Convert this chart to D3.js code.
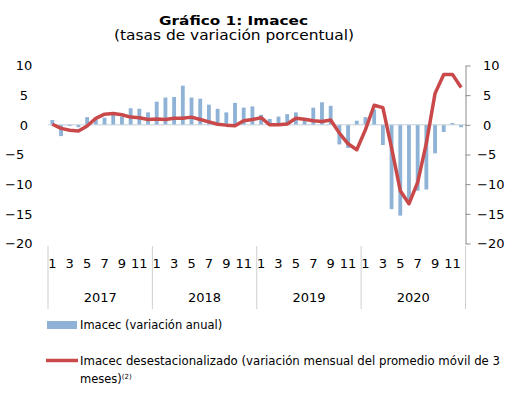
<!DOCTYPE html>
<html>
<head>
<meta charset="utf-8">
<script src="https://cdn.jsdelivr.net/npm/d3@7"></script>
<style>
  body { margin: 0; background: #fff; }
  svg { display: block; font-family: "DejaVu Sans", Verdana, sans-serif; }
</style>
</head>
<body>
<div id="chart"></div>
<script>
// Data
const years = ['2017', '2018', '2019', '2020'];
const months = [1, 2, 3, 4, 5, 6, 7, 8, 9, 10, 11, 12];
const monthLabels = ['1', '', '3', '', '5', '', '7', '', '9', '', '11', ''];

// Imacec (variación anual), Jan 2017 .. Dec 2020
const imacecAnual = [
  0.8, -1.9, -0.2, -0.4, 1.3, 0.9, 1.2, 1.9, 1.4, 2.8, 2.7, 2.1,
  3.9, 4.6, 4.7, 6.6, 4.6, 4.4, 3.4, 2.7, 2.1, 3.7, 2.9, 3.1,
  1.7, 1.0, 1.4, 1.8, 2.1, 1.1, 2.9, 3.8, 3.2, -3.3, -3.9, 0.7,
  1.3, 2.6, -3.4, -14.2, -15.3, -12.8, -11.1, -10.9, -4.8, -1.2, 0.3, -0.4
];

// Imacec desestacionalizado (variación mensual del promedio móvil de 3 meses)
const imacecDesest = [
  0.1, -0.6, -0.9, -1.05, -0.2, 1.1, 1.8, 1.9, 1.7, 1.3, 1.2, 0.9,
  1.0, 0.9, 1.1, 1.1, 1.3, 0.9, 0.5, 0.1, -0.05, -0.15, 0.7, 0.9,
  1.2, 0.0, 0.0, 0.15, 1.1, 0.95, 0.7, 0.55, 0.8, -1.4, -3.2, -4.2,
  -0.8, 3.3, 2.9, -3.9, -11.1, -13.3, -9.7, -3.1, 5.3, 8.5, 8.5, 6.3
];

const yTicks = [10, 5, 0, -5, -10, -15, -20];

const width = 521, height = 398;
const plot = { left: 48, right: 465.5, top: 65.5, bottom: 243.5 };

const periods = [];
years.forEach(y => months.forEach(m => periods.push(y + '-' + m)));

const svg = d3.select('#chart').append('svg')
  .attr('width', width)
  .attr('height', height);

svg.append('rect').attr('width', width).attr('height', height).attr('fill', '#fff');

// Scales
const x = d3.scaleBand()
  .domain(periods)
  .range([plot.left, plot.right])
  .paddingInner(0.56)
  .paddingOuter(0.28);

const xCenter = d3.scaleBand()
  .domain(periods)
  .range([plot.left, plot.right]);

const xYear = d3.scaleBand()
  .domain(years)
  .range([plot.left, plot.right]);

const y = d3.scaleLinear()
  .domain([-20, 10])
  .range([plot.bottom, plot.top]);

// Title (the original font is wider than DejaVu, so stretch to its width)
svg.append('text')
  .attr('x', 159).attr('y', 24.5)
  .attr('textLength', 149)
  .attr('lengthAdjust', 'spacingAndGlyphs')
  .style('font-size', '12.5px')
  .style('font-weight', 'bold')
  .text('Gráfico 1: Imacec');

svg.append('text')
  .attr('x', 114).attr('y', 40)
  .attr('textLength', 240)
  .attr('lengthAdjust', 'spacingAndGlyphs')
  .style('font-size', '13.5px')
  .text('(tasas de variación porcentual)');

// Bars
svg.append('g')
  .selectAll('rect')
  .data(imacecAnual)
  .enter()
  .append('rect')
  .attr('x', (d, i) => x(periods[i]))
  .attr('width', x.bandwidth())
  .attr('y', d => y(Math.max(0, d)))
  .attr('height', d => Math.abs(y(d) - y(0)))
  .attr('fill', '#8fb3d6');

// Zero line
svg.append('line')
  .attr('x1', plot.left).attr('x2', plot.right)
  .attr('y1', y(0)).attr('y2', y(0))
  .attr('stroke', '#c3cfdc')
  .attr('stroke-width', 1);

// Red line
const line = d3.line()
  .x((d, i) => xCenter(periods[i]) + xCenter.bandwidth() / 2)
  .y(d => y(d));

svg.append('path')
  .datum(imacecDesest)
  .attr('d', line)
  .attr('fill', 'none')
  .attr('stroke', '#c9494a')
  .attr('stroke-width', 3.5)
  .attr('stroke-linejoin', 'round')
  .attr('stroke-linecap', 'butt');

// Left axis labels (no line)
svg.append('g')
  .selectAll('text')
  .data(yTicks)
  .enter()
  .append('text')
  .attr('x', d => d >= 0 ? 24 : 5)
  .attr('y', d => y(d))
  .attr('dy', '0.36em')
  .attr('text-anchor', d => d >= 0 ? 'middle' : 'start')
  .style('font-size', '13px')
  .text(d => d < 0 ? '\u2212' + Math.abs(d) : d);

// Right axis
const rightAxis = svg.append('g')
  .attr('transform', `translate(${plot.right},0)`)
  .call(d3.axisRight(y).tickValues(yTicks).tickSize(5).tickSizeOuter(0).tickFormat(() => ''));
rightAxis.select('.domain').attr('stroke', '#8c8c8c');
rightAxis.selectAll('.tick line').attr('stroke', '#8c8c8c');

svg.append('g')
  .selectAll('text')
  .data(yTicks)
  .enter()
  .append('text')
  .attr('x', d => d >= 0 ? 483 : 477)
  .attr('y', d => y(d))
  .attr('dy', '0.36em')
  .attr('text-anchor', 'start')
  .style('font-size', '13px')
  .text(d => d < 0 ? '\u2212' + Math.abs(d) : d);

// Category axis: year separators, month labels, year labels
const sepX = years.map(yr => xYear(yr)).concat([plot.right]);
svg.append('g')
  .selectAll('line')
  .data(sepX)
  .enter()
  .append('line')
  .attr('x1', d => d).attr('x2', d => d)
  .attr('y1', 246).attr('y2', 309)
  .attr('stroke', '#cfcfcf')
  .attr('stroke-width', 1);

svg.append('g')
  .selectAll('text')
  .data(periods)
  .enter()
  .append('text')
  .attr('x', d => xCenter(d) + xCenter.bandwidth() / 2)
  .attr('y', 268)
  .attr('text-anchor', 'middle')
  .style('font-size', '13px')
  .text((d, i) => monthLabels[i % 12]);

svg.append('g')
  .selectAll('text')
  .data(years)
  .enter()
  .append('text')
  .attr('x', d => xYear(d) + xYear.bandwidth() / 2)
  .attr('y', 302)
  .attr('text-anchor', 'middle')
  .style('font-size', '13px')
  .text(d => d);

// Legend
const legend = svg.append('g');
legend.append('rect')
  .attr('x', 47).attr('y', 321)
  .attr('width', 30).attr('height', 8)
  .attr('fill', '#8fb3d6');
legend.append('text')
  .attr('x', 80).attr('y', 329)
  .style('font-size', '11.5px')
  .text('Imacec (variación anual)');

legend.append('line')
  .attr('x1', 46).attr('x2', 78)
  .attr('y1', 360.5).attr('y2', 360.5)
  .attr('stroke', '#c9494a')
  .attr('stroke-width', 3.5);
legend.append('text')
  .attr('x', 80).attr('y', 364.5)
  .attr('textLength', 420)
  .attr('lengthAdjust', 'spacingAndGlyphs')
  .style('font-size', '11.5px')
  .text('Imacec desestacionalizado (variación mensual del promedio móvil de 3');
const l2 = legend.append('text')
  .attr('x', 80).attr('y', 383)
  .style('font-size', '11.5px');
l2.append('tspan').text('meses)');
l2.append('tspan')
  .attr('dy', '-4')
  .style('font-size', '7px')
  .text('(2)');
</script>
</body>
</html>
